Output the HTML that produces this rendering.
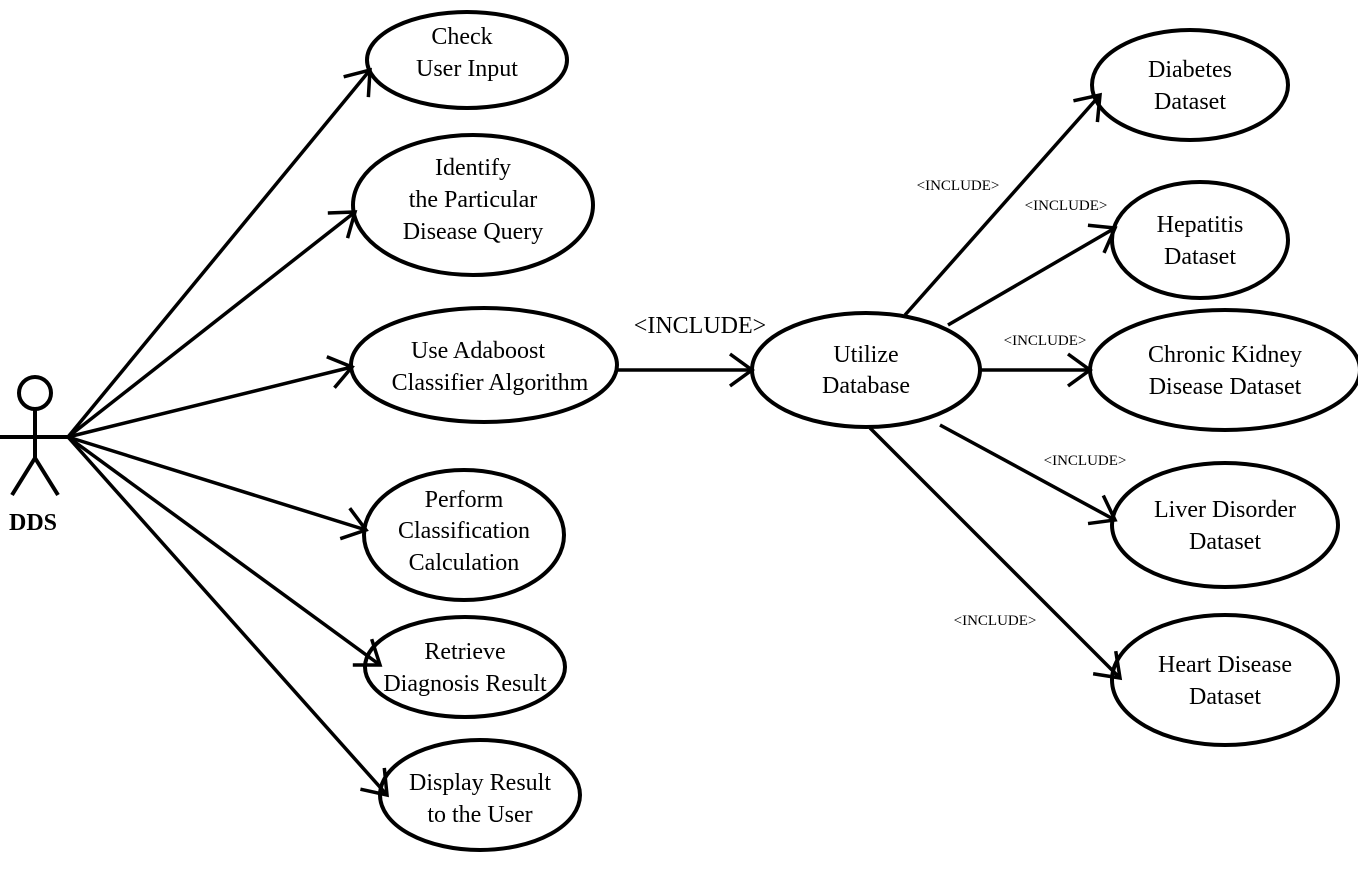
<!DOCTYPE html>
<html><head><meta charset="utf-8"><style>
html,body{margin:0;padding:0;background:#fff}
svg text{font-family:"Liberation Serif",serif;fill:#000}
</style></head><body>
<svg width="1358" height="868" viewBox="0 0 1358 868" xmlns="http://www.w3.org/2000/svg">
<defs>
<marker id="a" markerUnits="userSpaceOnUse" markerWidth="40" markerHeight="40" refX="28" refY="20" orient="auto">
<path d="M6,4 L28,20 L6,36" fill="none" stroke="#000" stroke-width="3.5"/>
</marker>
</defs>
<g fill="none" stroke="#000" stroke-width="4">
<ellipse cx="467" cy="60" rx="100" ry="48"/>
<ellipse cx="473" cy="205" rx="120" ry="70"/>
<ellipse cx="484" cy="365" rx="133" ry="57"/>
<ellipse cx="464" cy="535" rx="100" ry="65"/>
<ellipse cx="465" cy="667" rx="100" ry="50"/>
<ellipse cx="480" cy="795" rx="100" ry="55"/>
<ellipse cx="866" cy="370" rx="114" ry="57"/>
<ellipse cx="1190" cy="85" rx="98" ry="55"/>
<ellipse cx="1200" cy="240" rx="88" ry="58"/>
<ellipse cx="1225" cy="370" rx="135" ry="60"/>
<ellipse cx="1225" cy="525" rx="113" ry="62"/>
<ellipse cx="1225" cy="680" rx="113" ry="65"/>
<circle cx="35" cy="393" r="16"/>
<path d="M35,409 L35,458 M0,437 L68,437 M35,458 L12,495 M35,458 L58,495"/>
</g>
<g stroke="#000" stroke-width="3.5" fill="none" marker-end="url(#a)">
<line x1="68" y1="437" x2="370" y2="70"/>
<line x1="68" y1="437" x2="355" y2="212"/>
<line x1="68" y1="437" x2="352" y2="367"/>
<line x1="68" y1="437" x2="366" y2="530"/>
<line x1="68" y1="437" x2="380" y2="665"/>
<line x1="68" y1="437" x2="387" y2="795"/>
<line x1="617" y1="370" x2="752" y2="370"/>
<line x1="905" y1="315" x2="1100" y2="95"/>
<line x1="948" y1="325" x2="1115" y2="228"/>
<line x1="980" y1="370" x2="1090" y2="370"/>
<line x1="940" y1="425" x2="1115" y2="520"/>
<line x1="870" y1="428" x2="1120" y2="678"/>
</g>
<g font-size="24" text-anchor="middle">
<text x="462" y="44">Check</text><text x="467" y="76">User Input</text>
<text x="473" y="175">Identify</text><text x="473" y="207">the Particular</text><text x="473" y="239">Disease Query</text>
<text x="478" y="358">Use  Adaboost</text><text x="490" y="390">Classifier Algorithm</text>
<text x="464" y="507">Perform</text><text x="464" y="538">Classification</text><text x="464" y="570">Calculation</text>
<text x="465" y="659">Retrieve</text><text x="465" y="691">Diagnosis Result</text>
<text x="480" y="790">Display Result</text><text x="480" y="822">to the User</text>
<text x="866" y="362">Utilize</text><text x="866" y="393">Database</text>
<text x="1190" y="77">Diabetes</text><text x="1190" y="109">Dataset</text>
<text x="1200" y="232">Hepatitis</text><text x="1200" y="264">Dataset</text>
<text x="1225" y="362">Chronic Kidney</text><text x="1225" y="394">Disease Dataset</text>
<text x="1225" y="517">Liver Disorder</text><text x="1225" y="549">Dataset</text>
<text x="1225" y="672">Heart Disease</text><text x="1225" y="704">Dataset</text>
<text x="700" y="333">&lt;INCLUDE&gt;</text>
</g>
<g font-size="15" text-anchor="middle">
<text x="958" y="190">&lt;INCLUDE&gt;</text>
<text x="1066" y="210">&lt;INCLUDE&gt;</text>
<text x="1045" y="345">&lt;INCLUDE&gt;</text>
<text x="1085" y="465">&lt;INCLUDE&gt;</text>
<text x="995" y="625">&lt;INCLUDE&gt;</text>
</g>
<text x="33" y="530" font-size="24" font-weight="bold" text-anchor="middle">DDS</text>
</svg>
</body></html>
